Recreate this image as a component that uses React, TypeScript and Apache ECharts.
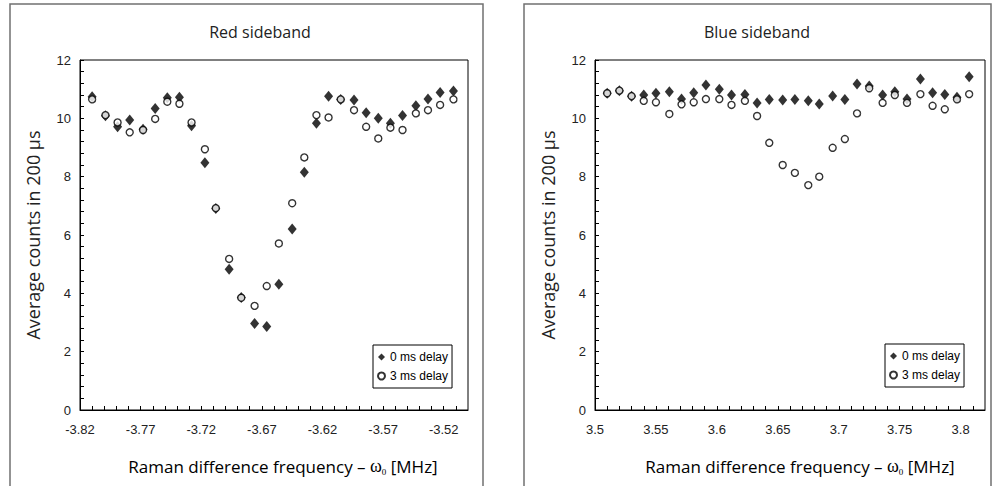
import React, { useEffect, useRef } from "react";
import * as echarts from "echarts";

const LEFT_X = [-3.810, -3.799, -3.789, -3.779, -3.768, -3.758, -3.748, -3.738, -3.728, -3.717, -3.708, -3.697, -3.687, -3.676, -3.666, -3.656, -3.645, -3.635, -3.625, -3.615, -3.605, -3.594, -3.584, -3.574, -3.564, -3.554, -3.543, -3.533, -3.523, -3.512];
const LEFT_0MS = [10.74, 10.09, 9.71, 9.94, 9.63, 10.34, 10.71, 10.72, 9.75, 8.48, 6.91, 4.83, 3.86, 2.97, 2.86, 4.31, 6.21, 8.15, 9.83, 10.76, 10.65, 10.63, 10.19, 10.0, 9.83, 10.1, 10.43, 10.66, 10.89, 10.94];
const LEFT_3MS = [10.65, 10.11, 9.86, 9.52, 9.6, 9.98, 10.57, 10.5, 9.86, 8.94, 6.92, 5.18, 3.85, 3.57, 4.25, 5.71, 7.09, 8.66, 10.11, 10.03, 10.65, 10.28, 9.71, 9.31, 9.68, 9.6, 10.17, 10.28, 10.46, 10.65];

const RIGHT_X = [3.510, 3.520, 3.530, 3.540, 3.550, 3.561, 3.571, 3.581, 3.591, 3.602, 3.612, 3.623, 3.633, 3.643, 3.654, 3.664, 3.675, 3.684, 3.695, 3.705, 3.715, 3.725, 3.736, 3.746, 3.756, 3.767, 3.777, 3.787, 3.797, 3.807];
const RIGHT_0MS = [10.86, 10.95, 10.76, 10.8, 10.86, 10.91, 10.66, 10.88, 11.14, 11.0, 10.8, 10.82, 10.53, 10.65, 10.63, 10.65, 10.6, 10.49, 10.77, 10.65, 11.18, 11.11, 10.8, 10.91, 10.66, 11.35, 10.88, 10.82, 10.72, 11.43];
const RIGHT_3MS = [10.86, 10.95, 10.76, 10.6, 10.55, 10.15, 10.48, 10.55, 10.66, 10.66, 10.46, 10.6, 10.08, 9.16, 8.4, 8.13, 7.71, 8.0, 8.99, 9.29, 10.17, 11.03, 10.53, 10.8, 10.53, 10.83, 10.43, 10.31, 10.65, 10.83];

const LEFT_TICKS = [-3.82, -3.77, -3.72, -3.67, -3.62, -3.57, -3.52];
const RIGHT_TICKS = [3.5, 3.55, 3.6, 3.65, 3.7, 3.75, 3.8];
const SERIES_NAMES = ["0 ms delay", "3 ms delay"];
const TITLES = ["Red sideband", "Blue sideband"];
const Y_NAME = "Average counts in 200 µs";

const zip = (xs: number[], ys: number[]) => xs.map((x, i) => [x, ys[i]]);

const tickLabelStyle = { fontFamily: "Liberation Sans", fontSize: 13, color: "#222" };

function makeXAxis(gridIndex: number, min: number, max: number, ticks: number[]) {
  return {
    type: "value",
    gridIndex,
    min,
    max,
    interval: 0.01,
    axisLine: { show: true, lineStyle: { color: "#000", width: 1 } },
    axisTick: { show: true, inside: true, length: 4, lineStyle: { color: "#000" } },
    minorTick: { show: false },
    splitLine: { show: false },
    axisLabel: {
      ...tickLabelStyle,
      margin: 13,
      showMaxLabel: false,
      formatter: (v: number) => {
        const hit = ticks.find((t) => Math.abs(t - v) < 1e-6);
        return hit === undefined ? "" : String(hit);
      },
    },
  };
}

function makeYAxis(gridIndex: number) {
  return {
    type: "value",
    gridIndex,
    min: 0,
    max: 12,
    interval: 2,
    name: Y_NAME,
    nameLocation: "middle",
    nameGap: 38,
    nameTextStyle: { fontFamily: "Open Sans", fontSize: 18, color: "#222" },
    axisLine: { show: true, lineStyle: { color: "#000", width: 1 } },
    axisTick: { show: true, inside: true, length: 4, lineStyle: { color: "#000" } },
    minorTick: { show: true, splitNumber: 5, length: 4, lineStyle: { color: "#000" } },
    splitLine: { show: false },
    axisLabel: { ...tickLabelStyle, margin: 9 },
  };
}

function diamondSeries(name: string, idx: number, data: number[][]) {
  return {
    type: "scatter",
    name,
    xAxisIndex: idx,
    yAxisIndex: idx,
    symbol: "diamond",
    symbolSize: [9, 11],
    itemStyle: { color: "#000" },
    data,
    z: 2,
  };
}

function circleSeries(name: string, idx: number, data: number[][]) {
  return {
    type: "scatter",
    name,
    xAxisIndex: idx,
    yAxisIndex: idx,
    symbol: "circle",
    symbolSize: 7,
    itemStyle: { color: "#fff", borderColor: "#000", borderWidth: 1.4 },
    data,
    z: 3,
  };
}

function legend(left: number, top: number) {
  return {
    left,
    top,
    orient: "vertical",
    data: SERIES_NAMES,
    selectedMode: false,
    borderColor: "#000",
    borderWidth: 1,
    borderRadius: 0,
    padding: [6, 4, 6, 4],
    itemGap: 7,
    itemWidth: 7,
    itemHeight: 7,
    textStyle: { fontFamily: "Liberation Sans", fontSize: 12, color: "#000" },
  };
}

const xNameRich = {
  a: { fontFamily: "Open Sans", fontSize: 17, color: "#222" },
  w: { fontFamily: "Liberation Serif", fontSize: 18, color: "#222" },
  s: { fontFamily: "Liberation Serif", fontSize: 9, color: "#222", padding: [12, 0, 0, 0] },
};

function xName(cx: number, cy: number) {
  return {
    type: "text",
    x: cx,
    y: cy,
    style: {
      text: "{a|Raman difference frequency – }{w|ω}{s|0}{a| [MHz]}",
      rich: xNameRich,
      align: "center",
      verticalAlign: "middle",
    },
  };
}

function title(text: string, cx: number, cy: number) {
  return {
    type: "text",
    x: cx,
    y: cy,
    style: {
      text,
      fontFamily: "Open Sans",
      fontSize: 16,
      fill: "#222",
      align: "center",
      verticalAlign: "middle",
    },
  };
}

function frame(x: number, w: number) {
  return {
    type: "rect",
    shape: { x, y: 4, width: w, height: 520 },
    style: { fill: "none", stroke: "#707070", lineWidth: 1.5 },
    silent: true,
  };
}

export default function App() {
  const ref = useRef<HTMLDivElement>(null);
  useEffect(() => {
    if (!ref.current) return;
    const chart = echarts.init(ref.current, null, { renderer: "svg" });
    chart.setOption({
      animation: false,
      backgroundColor: "#fff",
      grid: [
        { left: 80, top: 60, width: 388, height: 350, show: true, borderColor: "#000", borderWidth: 1, backgroundColor: "transparent" },
        { left: 595, top: 60, width: 390, height: 350, show: true, borderColor: "#000", borderWidth: 1, backgroundColor: "transparent" },
      ],
      xAxis: [makeXAxis(0, -3.82, -3.5, LEFT_TICKS), makeXAxis(1, 3.5, 3.82, RIGHT_TICKS)],
      yAxis: [makeYAxis(0), makeYAxis(1)],
      legend: [legend(373, 345), legend(885, 344)],
      series: [
        diamondSeries(SERIES_NAMES[0], 0, zip(LEFT_X, LEFT_0MS)),
        circleSeries(SERIES_NAMES[1], 0, zip(LEFT_X, LEFT_3MS)),
        diamondSeries(SERIES_NAMES[0], 1, zip(RIGHT_X, RIGHT_0MS)),
        circleSeries(SERIES_NAMES[1], 1, zip(RIGHT_X, RIGHT_3MS)),
      ],
      graphic: [
        frame(10, 473),
        frame(524, 467),
        title(TITLES[0], 260, 32),
        title(TITLES[1], 757, 32),
        xName(283, 466),
        xName(800, 466),
      ],
    });
    return () => chart.dispose();
  }, []);
  return <div ref={ref} style={{ position: "fixed", left: 0, top: 0, width: 995, height: 486 }} />;
}
